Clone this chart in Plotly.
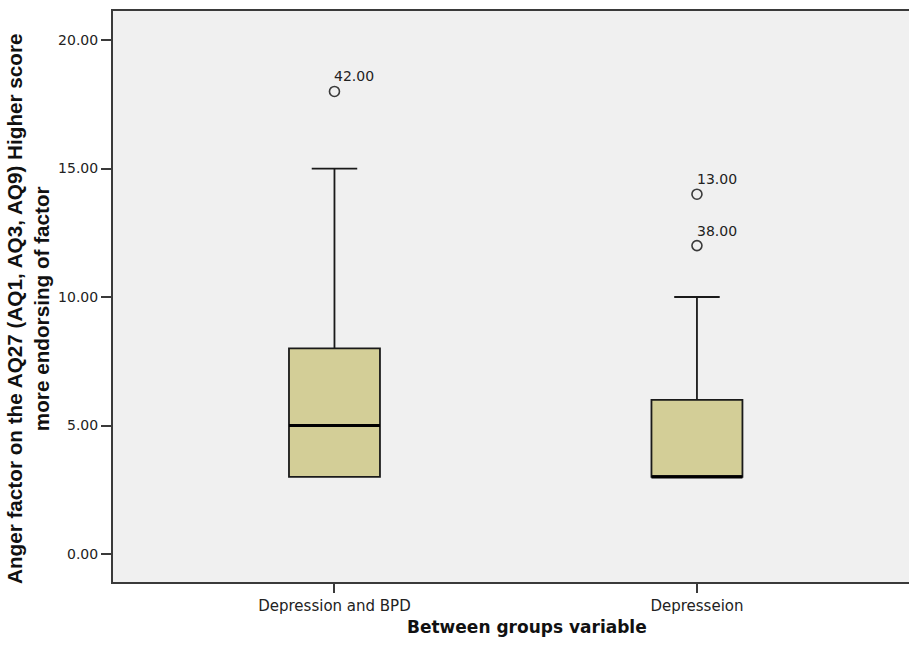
import plotly.graph_objects as go

# ---- data ----
groups = ["Depression and BPD", "Depresseion"]
positions = [0, 1]
q1 = [3.0, 3.0]
medians = [5.0, 3.0]
q3 = [8.0, 6.0]
lower_fence = [3.0, 3.0]
upper_fence = [15.0, 10.0]
outlier_x = [0, 1, 1]
outlier_y = [18.0, 14.0, 12.0]
outlier_labels = ["42.00", "13.00", "38.00"]
y_ticks = [0, 5, 10, 15, 20]

box_width = 0.251

fig = go.Figure()
fig.add_trace(go.Box(
    x=positions, q1=q1, median=medians, q3=q3,
    lowerfence=lower_fence, upperfence=upper_fence,
    width=box_width, whiskerwidth=0.5,
    fillcolor="rgb(211,206,151)",
    line=dict(color="#1a1a1a", width=1.8),
    boxpoints=False, hoverinfo="skip", showlegend=False,
))

# thicker median lines
for xp, m in zip(positions, medians):
    fig.add_trace(go.Scatter(
        x=[xp - box_width / 2, xp + box_width / 2], y=[m, m], mode="lines",
        line=dict(color="black", width=3), showlegend=False, hoverinfo="skip"))

fig.add_trace(go.Scatter(
    x=outlier_x, y=outlier_y, mode="markers",
    marker=dict(symbol="circle-open", size=10, color="#3a3a3a", line=dict(width=1.6)),
    showlegend=False, hoverinfo="skip"))

for xp, yv, lab in zip(outlier_x, outlier_y, outlier_labels):
    fig.add_annotation(x=xp, y=yv, text=lab, showarrow=False,
                       xanchor="left", yanchor="bottom", xshift=-2, yshift=5,
                       font=dict(family="DejaVu Sans", size=14, color="#222"))

fig.add_annotation(
    text="<b>Anger factor on the AQ27 (AQ1, AQ3, AQ9) Higher score<br>more endorsing of factor</b>",
    xref="paper", yref="paper", x=0, y=0.478, xshift=-85, textangle=-90,
    showarrow=False, xanchor="center", yanchor="middle",
    font=dict(family="Liberation Sans", size=20.7, color="#111"))

fig.add_annotation(
    text="<b>Between groups variable</b>",
    xref="paper", yref="paper", x=0.52, y=0, yshift=-45,
    showarrow=False, xanchor="center", yanchor="middle",
    font=dict(family="DejaVu Sans", size=17, color="#111"))

fig.update_layout(
    width=909, height=646,
    margin=dict(l=113, r=0, t=11, b=64),
    paper_bgcolor="white", plot_bgcolor="#F0F0F0",
    font=dict(family="DejaVu Sans", size=14, color="#222"),
)
fig.update_xaxes(
    range=[-0.611, 1.585], tickvals=positions, ticktext=groups,
    showline=True, linecolor="#3a3a3a", linewidth=2, mirror=True,
    ticks="outside", ticklen=9, tickwidth=2, tickcolor="#3a3a3a",
    showgrid=False, zeroline=False, tickfont=dict(size=15, color="#222"),
)
fig.update_yaxes(
    range=[-1.09, 21.13], tickvals=y_ticks, tickformat=".2f",
    showline=True, linecolor="#3a3a3a", linewidth=2, mirror=False,
    ticks="outside", ticklen=10, tickwidth=2, tickcolor="#3a3a3a",
    showgrid=False, zeroline=False, tickfont=dict(size=14, color="#222"),
)

fig.write_html("out.html")
